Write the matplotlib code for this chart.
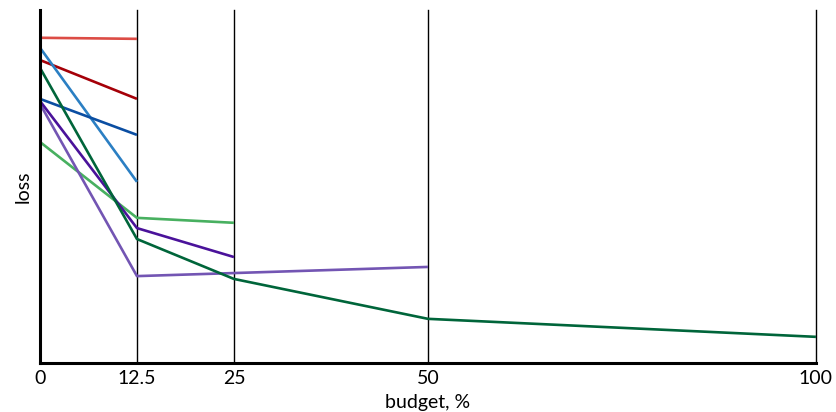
import matplotlib.pyplot as plt

plt.rcParams['font.family'] = ['Lato', 'DejaVu Sans']

budget_ticks = [0, 12.5, 25, 50, 100]
tick_labels = ['0', '12.5', '25', '50', '100']

# each series: budgets and (relative) loss values
red_x = [0, 12.5]
red_y = [0.921, 0.918]
darkred_x = [0, 12.5]
darkred_y = [0.858, 0.748]
lightblue_x = [0, 12.5]
lightblue_y = [0.893, 0.513]
darkblue_x = [0, 12.5]
darkblue_y = [0.748, 0.646]
darkgreen_x = [0, 12.5, 25, 50, 100]
darkgreen_y = [0.836, 0.351, 0.238, 0.125, 0.074]
indigo_x = [0, 12.5, 25]
indigo_y = [0.742, 0.382, 0.300]
lightgreen_x = [0, 12.5, 25]
lightgreen_y = [0.626, 0.411, 0.397]
lavender_x = [0, 12.5, 50]
lavender_y = [0.734, 0.246, 0.272]

series = [
    (red_x, red_y, '#dc4c45'),
    (darkred_x, darkred_y, '#a50008'),
    (lightblue_x, lightblue_y, '#2b7fc3'),
    (darkblue_x, darkblue_y, '#0b4ea2'),
    (lightgreen_x, lightgreen_y, '#48b060'),
    (lavender_x, lavender_y, '#7355b3'),
    (indigo_x, indigo_y, '#4a129a'),
    (darkgreen_x, darkgreen_y, '#00653a'),
]

fig = plt.figure(figsize=(8.36, 4.12), dpi=100)
ax = fig.add_axes([0.0478, 0.119, 0.9282, 0.857])

for b in budget_ticks[1:]:
    ax.axvline(b, color='black', linewidth=1.0, zorder=1, clip_on=False)

for xs, ys, c in series:
    ax.plot(xs, ys, color=c, linewidth=1.9, zorder=2, solid_capstyle='butt')

ax.set_xlim(0, 100)
ax.set_ylim(0, 1)
ax.set_xticks(budget_ticks)
ax.set_xticklabels(tick_labels, fontsize=14)
ax.set_yticks([])
ax.tick_params(axis='x', length=0, pad=5)
ax.spines['top'].set_visible(False)
ax.spines['right'].set_visible(False)
ax.spines['left'].set_linewidth(2.2)
ax.spines['bottom'].set_linewidth(2.2)
ax.set_xlabel('budget, %', fontsize=14, labelpad=5)
ax.set_ylabel('loss', fontsize=14, labelpad=6)

fig.savefig('out.png', dpi=100)
